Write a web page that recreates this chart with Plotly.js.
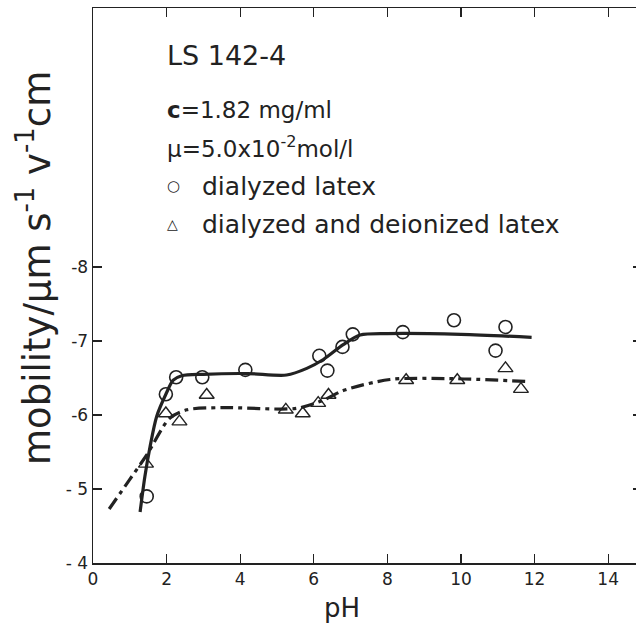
<!DOCTYPE html>
<html>
<head>
<meta charset="utf-8">
<script src="https://cdn.plot.ly/plotly-3.0.1.min.js"></script>
<style>
html,body{margin:0;padding:0;overflow:hidden;background:#fff;}
#chart{width:642px;height:625px;}
</style>
</head>
<body>
<div id="chart"></div>
<script>
// Measured points: dialyzed latex (circles)
const phDialyzed = [1.46, 1.98, 2.26, 2.97, 4.14, 6.15, 6.37, 6.78, 7.06, 8.42, 9.81, 10.94, 11.21];
const mobDialyzed = [-4.90, -6.28, -6.51, -6.51, -6.61, -6.80, -6.60, -6.92, -7.09, -7.12, -7.28, -6.87, -7.19];

// Measured points: dialyzed and deionized latex (triangles)
const phDeionized = [1.44, 1.98, 2.35, 3.09, 5.24, 5.70, 6.12, 6.40, 8.51, 9.90, 11.21, 11.63];
const mobDeionized = [-5.34, -6.02, -5.91, -6.27, -6.07, -6.02, -6.16, -6.27, -6.47, -6.47, -6.63, -6.35];

// Hand-drawn fit curves
const phFitDialyzed = [1.28, 1.41, 1.55, 1.73, 1.98, 2.18, 2.41, 3.0, 4.2, 5.26, 5.81, 6.26, 6.80, 7.26, 8.0, 10.0, 11.92];
const mobFitDialyzed = [-4.69, -5.17, -5.57, -5.98, -6.28, -6.47, -6.53, -6.55, -6.56, -6.54, -6.63, -6.75, -6.95, -7.08, -7.10, -7.09, -7.05];

const phFitDeionized = [0.44, 1.0, 1.46, 2.09, 2.55, 3.54, 5.53, 6.26, 6.80, 8.07, 9.88, 11.88];
const mobFitDeionized = [-4.73, -5.13, -5.46, -5.96, -6.07, -6.10, -6.09, -6.20, -6.33, -6.48, -6.49, -6.45];

// Axis ticks
const xTickVals = [0, 2, 4, 6, 8, 10, 12, 14];
const xTickText = ['0', '2', '4', '6', '8', '10', '12', '14'];
const yTickVals = [-4, -5, -6, -7, -8];
const yTickText = ['- 4', '- 5', '-6', '-7', '-8'];

const ink = '#222222';
const font = 'DejaVu Sans, Open Sans, sans-serif';

const traces = [
  {
    x: phFitDialyzed, y: mobFitDialyzed, mode: 'lines', type: 'scatter',
    name: 'dialyzed latex (fit)', showlegend: false, hoverinfo: 'skip',
    line: {color: ink, width: 3.2, shape: 'spline', smoothing: 0.8}
  },
  {
    x: phFitDeionized, y: mobFitDeionized, mode: 'lines', type: 'scatter',
    name: 'dialyzed and deionized latex (fit)', showlegend: false, hoverinfo: 'skip',
    line: {color: ink, width: 3.2, shape: 'spline', smoothing: 0.8, dash: '13px,5px,4px,5px'}
  },
  {
    x: phDialyzed, y: mobDialyzed, mode: 'markers', type: 'scatter',
    name: 'dialyzed latex', showlegend: false,
    marker: {symbol: 'circle-open', size: 13, color: ink, line: {width: 1.6, color: ink}}
  },
  {
    x: phDeionized, y: mobDeionized, mode: 'markers', type: 'scatter',
    name: 'dialyzed and deionized latex', showlegend: false,
    marker: {symbol: 'triangle-up-open', size: 13, color: ink, line: {width: 1.4, color: ink}}
  }
];

// paper coordinates: plot area spans x 93..642 px, y 8..563 px
const px = v => (v - 93) / (642 - 93);
const py = v => (563 - v) / (563 - 8);

const textAnn = (t, x, y, size, anchor, angle) => ({
  text: t, x: px(x), y: py(y), xref: 'paper', yref: 'paper',
  xanchor: anchor || 'left', yanchor: 'middle', showarrow: false,
  textangle: angle || 0,
  font: {family: font, size: size, color: ink}
});

const layout = {
  width: 642, height: 625,
  margin: {l: 93, r: 0, t: 8, b: 62},
  paper_bgcolor: '#fff', plot_bgcolor: '#fff',
  font: {family: font, color: ink},
  showlegend: false,
  xaxis: {
    range: [0, 14.92], tickvals: xTickVals, ticktext: xTickText,
    ticks: 'inside', ticklen: 9, tickwidth: 1.3, tickcolor: ink,
    mirror: 'ticks', showline: true, linewidth: 1.5, linecolor: ink,
    showgrid: false, zeroline: false,
    tickfont: {size: 17, color: ink}
  },
  yaxis: {
    range: [-4, -11.5], tickvals: yTickVals, ticktext: yTickText,
    ticks: 'inside', ticklen: 9, tickwidth: 1.3, tickcolor: ink,
    mirror: 'ticks', showline: true, linewidth: 1.5, linecolor: ink,
    showgrid: false, zeroline: false,
    tickfont: {size: 17, color: ink}
  },
  annotations: [
    textAnn('mobility/μm s<sup>-1</sup> v<sup>-1</sup>cm', 34, 268, 37, 'center', -90),
    textAnn('pH', 342, 608, 26, 'center'),
    textAnn('LS 142-4', 165, 55, 27),
    textAnn('<b>c</b>=1.82 mg/ml', 165, 110, 23),
    textAnn('μ=5.0x10<sup>-2</sup>mol/l', 165, 147, 23),
    textAnn('○', 165, 186, 15),
    textAnn('dialyzed latex', 200, 186, 25),
    textAnn('△', 165, 224, 14),
    textAnn('dialyzed and deionized latex', 200, 224, 25)
  ]
};

Plotly.newPlot('chart', traces, layout, {staticPlot: true, displayModeBar: false});
</script>
</body>
</html>
